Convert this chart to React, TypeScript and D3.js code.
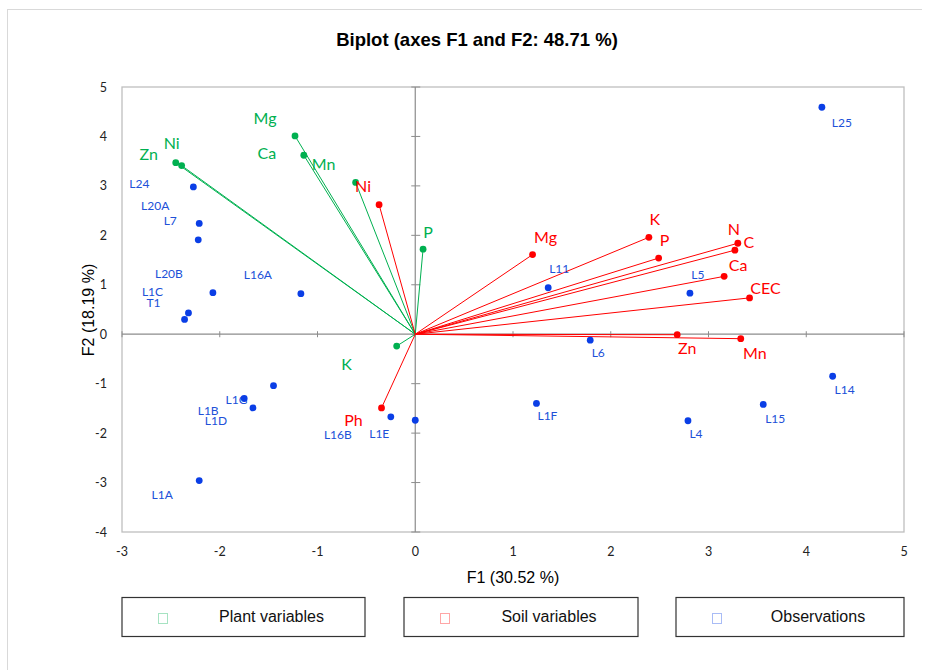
import React from "react";
import * as d3 from "d3";

// plant variables (green)
const plantNames = ["Mg", "Ca", "Mn", "Ni", "Zn", "P", "K"];
const plantF1 = [-1.23, -1.14, -0.61, -2.39, -2.45, 0.08, -0.19];
const plantF2 = [4.01, 3.62, 3.07, 3.41, 3.47, 1.72, -0.24];

// soil variables (red)
const soilNames = ["Ni", "Ph", "Mg", "K", "P", "N", "C", "Ca", "CEC", "Zn", "Mn"];
const soilF1 = [-0.37, -0.345, 1.2, 2.39, 2.49, 3.3, 3.27, 3.16, 3.42, 2.68, 3.33];
const soilF2 = [2.62, -1.49, 1.61, 1.96, 1.54, 1.84, 1.7, 1.17, 0.735, -0.01, -0.09];

// observations (blue)
const obsNames = ["L25", "L14", "L15", "L4", "L5", "L11", "L6", "L1F", "L24", "L20A", "L7", "L20B", "L16A", "L1C", "T1", "L1G", "L1B", "L1D", "L1A", "L16B", "L1E"];
const obsF1 = [4.16, 4.27, 3.56, 2.79, 2.81, 1.36, 1.79, 1.24, -2.27, -2.21, -2.22, -2.07, -1.17, -2.32, -2.36, -1.45, -1.75, -1.66, -2.21, -0.25, 0.0];
const obsF2 = [4.59, -0.85, -1.42, -1.75, 0.83, 0.94, -0.12, -1.4, 2.98, 2.24, 1.91, 0.84, 0.82, 0.43, 0.3, -1.04, -1.3, -1.49, -2.96, -1.67, -1.74];

const xTicks = [-3, -2, -1, 0, 1, 2, 3, 4, 5];
const yTicks = [-4, -3, -2, -1, 0, 1, 2, 3, 4, 5];

const legendItems = ["Plant variables", "Soil variables", "Observations"];

// label placement (pixel offsets from the point)
const plantOff: Record<string, [number, number]> = {
  Mg: [-30, -18], Ca: [-37, -3], Mn: [-32, -19], Ni: [-10, -23], Zn: [-27, -9], P: [5, -18], K: [-50, 17],
};
const soilOff: Record<string, [number, number]> = {
  Ni: [-16, -19], Ph: [-28, 12], Mg: [13, -18], K: [6, -19], P: [6, -19], N: [-4, -15], C: [14, -9],
  Ca: [14, -12], CEC: [16, -10], Zn: [10, 13], Mn: [14, 14],
};
const obsOff: Record<string, [number, number]> = {
  L25: [20, 15], L14: [12, 13], L15: [12, 14], L4: [8, 13], L5: [8, -19], L11: [11, -19], L6: [8, 12],
  L1F: [11, 12], L24: [-54, -3], L20A: [-44, -18], L7: [-28, -19], L20B: [-44, -19], L16A: [-43, -19],
  L1C: [-36, -21], T1: [-31, -17], L1G: [-37, 14], L1B: [-36, 12], L1D: [-37, 13], L1A: [-37, 14],
  L16B: [-53, 18], L1E: [-36, 13],
};

const GREEN = "#00b050";
const RED = "#ff0000";
const BLUE = "#0a3ee6";
const BLUE_TXT = "#2050d8";
const LABEL_FONT = "Lato, 'Open Sans', sans-serif";
const ARIAL = "'Liberation Sans', Arial, sans-serif";

export default function App() {
  const x = d3.scaleLinear().domain([-3, 5]).range([122, 904]);
  const y = d3.scaleLinear().domain([5, -4]).range([87, 532]);
  const x0 = x(0);
  const y0 = y(0);

  const vectors = (names: string[], f1: number[], f2: number[], color: string, off: Record<string, [number, number]>, key: string) =>
    names.map((n, i) => {
      const px = x(f1[i]);
      const py = y(f2[i]);
      const o = off[n] || [0, 0];
      return (
        <g key={key + n}>
          <line x1={x0} y1={y0} x2={px} y2={py} stroke={color} strokeWidth={1} />
          <circle cx={px} cy={py} r={3.4} fill={color} />
          <text x={px + o[0]} y={py + o[1]} fill={color} fontSize={16} fontFamily={LABEL_FONT}
            textAnchor="middle" dominantBaseline="central">{n}</text>
        </g>
      );
    });

  const legendBoxes = [
    { x: 122, w: 243, color: GREEN },
    { x: 404, w: 234, color: RED },
    { x: 676, w: 228, color: BLUE },
  ];

  return (
    <svg width={932} height={670} style={{ position: "absolute", left: 0, top: 0, background: "#fff" }}>
      <rect x={0} y={0} width={932} height={670} fill="#fff" />
      {/* outer frame */}
      <line x1={7} y1={9.5} x2={922} y2={9.5} stroke="#d9d9d9" />
      <line x1={7.5} y1={9} x2={7.5} y2={670} stroke="#d9d9d9" />

      <text x={477} y={46} textAnchor="middle" fontFamily={ARIAL} fontWeight="bold" fontSize={18.5}>
        Biplot (axes F1 and F2: 48.71 %)
      </text>

      {/* plot area border */}
      <rect x={122} y={87} width={782} height={445} fill="none" stroke="#bfbfbf" strokeWidth={1.3} />
      {/* zero axes */}
      <line x1={122} y1={y0} x2={904} y2={y0} stroke="#8c8c8c" strokeWidth={1.2} />
      <line x1={x0} y1={87} x2={x0} y2={532} stroke="#8c8c8c" strokeWidth={1.2} />
      {xTicks.map((t) => (
        <line key={"xt" + t} x1={x(t)} x2={x(t)} y1={y0 - 3} y2={y0 + 3} stroke="#8c8c8c" />
      ))}
      {yTicks.map((t) => (
        <line key={"yt" + t} x1={x0 - 4} x2={x0 + 5} y1={y(t)} y2={y(t)} stroke="#8c8c8c" />
      ))}

      {/* tick labels */}
      {xTicks.map((t) => (
        <text key={"xl" + t} x={x(t)} y={556} textAnchor="middle" fontSize={12.5} fontFamily={LABEL_FONT} fill="#222">
          {t}
        </text>
      ))}
      {yTicks.map((t) => (
        <text key={"yl" + t} x={107} y={y(t)} textAnchor="end" dominantBaseline="central" fontSize={12.5}
          fontFamily={LABEL_FONT} fill="#222">
          {t}
        </text>
      ))}

      {/* axis titles */}
      <text x={513} y={583} textAnchor="middle" fontFamily={ARIAL} fontSize={16}>F1 (30.52 %)</text>
      <text transform={`translate(94,${310}) rotate(-90)`} textAnchor="middle" fontFamily={ARIAL} fontSize={16}>
        F2 (18.19 %)
      </text>

      {vectors(plantNames, plantF1, plantF2, GREEN, plantOff, "p")}
      {vectors(soilNames, soilF1, soilF2, RED, soilOff, "s")}

      {obsNames.map((n, i) => {
        const px = x(obsF1[i]);
        const py = y(obsF2[i]);
        const o = obsOff[n] || [0, 0];
        return (
          <g key={"o" + n}>
            <circle cx={px} cy={py} r={3.4} fill={BLUE} />
            <text x={px + o[0]} y={py + o[1]} fill={BLUE_TXT} fontSize={12} fontFamily={LABEL_FONT}
              textAnchor="middle" dominantBaseline="central">{n}</text>
          </g>
        );
      })}

      {/* legend */}
      {legendItems.map((item, i) => {
        const b = legendBoxes[i];
        return (
          <g key={"lg" + i}>
            <rect x={b.x} y={597.5} width={b.w} height={39} fill="#fff" stroke="#333" strokeWidth={1.2} />
            <rect x={b.x + 36.5} y={613.5} width={9} height={10} fill="none" stroke={b.color} strokeOpacity={0.35} />
            <text x={b.x + b.w / 2 + 28} y={621.5} textAnchor="middle" fontFamily={ARIAL} fontSize={16} fill="#111">
              {item}
            </text>
          </g>
        );
      })}
    </svg>
  );
}
